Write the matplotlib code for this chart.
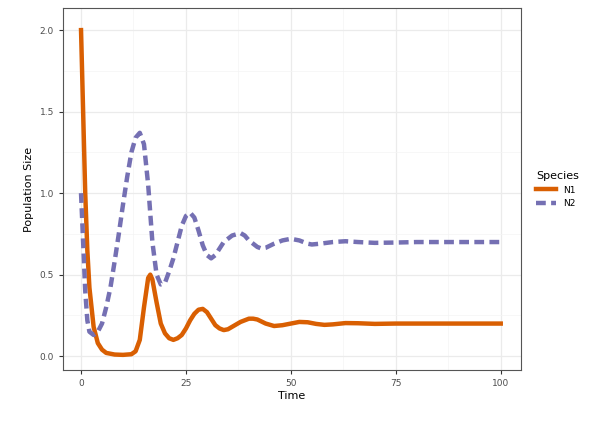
import matplotlib.pyplot as plt

t1 = [0, 0.5, 1, 1.5, 2, 3, 4, 5, 6, 8, 10, 12, 13, 14, 15, 16, 16.5, 17, 18, 19, 20, 21, 22, 23, 24,
      25, 26, 27, 28, 29, 30, 31, 32, 33, 34, 35, 36, 38, 40, 41, 42, 44, 46, 48, 50, 52, 54, 56, 58,
      60, 63, 66, 70, 75, 80, 90, 100]
n1 = [2.0, 1.5, 1.0, 0.65, 0.42, 0.18, 0.08, 0.04, 0.02, 0.01, 0.008, 0.012, 0.03, 0.1, 0.3, 0.48, 0.5,
      0.47, 0.33, 0.2, 0.14, 0.11, 0.1, 0.11, 0.13, 0.17, 0.22, 0.26, 0.285, 0.29, 0.27, 0.23, 0.19, 0.17,
      0.16, 0.165, 0.18, 0.21, 0.23, 0.23, 0.225, 0.2, 0.185, 0.19, 0.2, 0.21, 0.208, 0.198, 0.192, 0.195,
      0.203, 0.202, 0.198, 0.2, 0.2, 0.2, 0.2]

t2 = [0, 0.5, 1, 1.5, 2, 3, 4, 5, 6, 7, 8, 9, 10, 11, 12, 13, 14, 15, 16, 17, 18, 19, 20, 21, 22, 23,
      24, 25, 26, 27, 28, 29, 30, 31, 32, 33, 34, 36, 38, 39, 40, 42, 43, 44, 46, 48, 50, 52, 54, 55, 57,
      60, 63, 66, 70, 75, 80, 90, 100]
n2 = [1.0, 0.7, 0.4, 0.22, 0.15, 0.13, 0.15, 0.2, 0.3, 0.42, 0.58, 0.75, 0.93, 1.1, 1.25, 1.34, 1.37,
      1.3, 1.05, 0.7, 0.5, 0.44, 0.45, 0.52, 0.6, 0.7, 0.8, 0.86, 0.88, 0.85, 0.77, 0.68, 0.62, 0.6, 0.62,
      0.66, 0.7, 0.74, 0.755, 0.74, 0.71, 0.67, 0.66, 0.665, 0.69, 0.71, 0.72, 0.71, 0.69, 0.685, 0.69,
      0.7, 0.705, 0.7, 0.695, 0.697, 0.7, 0.7, 0.7]

fig = plt.figure(figsize=(5.97, 4.26), dpi=100)
ax = fig.add_axes([0.1055, 0.131, 0.767, 0.85])
ax.plot(t1, n1, color='#D95F02', linewidth=3.2, label='N1')
ax.plot(t2, n2, color='#7570B3', linewidth=3.2, linestyle=(0, (2.2, 1.2)), label='N2')
ax.set_xlim(-4.3, 104.8)
ax.set_ylim(-0.086, 2.135)
ax.set_xticks([0, 25, 50, 75, 100])
ax.set_yticks([0.0, 0.5, 1.0, 1.5, 2.0])
ax.set_yticklabels(['0.0', '0.5', '1.0', '1.5', '2.0'])
ax.set_xticks([12.5, 37.5, 62.5, 87.5], minor=True)
ax.set_yticks([0.25, 0.75, 1.25, 1.75], minor=True)
ax.grid(True, which='major', color='#EBEBEB', linewidth=0.9)
ax.grid(True, which='minor', color='#F4F4F4', linewidth=0.5)
ax.set_axisbelow(True)
ax.tick_params(which='minor', length=0)
ax.tick_params(which='major', length=3, color='#333333', labelsize=6.5, labelcolor='#4D4D4D')
for s in ax.spines.values():
    s.set_color('#555555')
    s.set_linewidth(0.8)
ax.set_xlabel('Time', fontsize=8, labelpad=2)
ax.set_ylabel('Population Size', fontsize=8, labelpad=4)
fig.legend(loc='center left', bbox_to_anchor=(0.885, 0.555), title='Species', frameon=False,
           fontsize=6.5, title_fontsize=8, handlelength=2.2, alignment='left')
fig.savefig('out.png')
